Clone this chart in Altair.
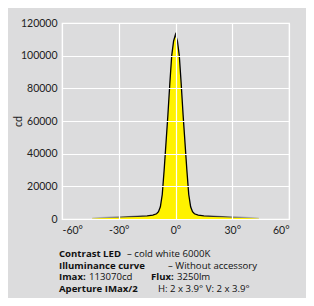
import altair as alt
import pandas as pd

angles = [-44, -40, -35, -30, -25, -20, -15, -12, -10, -9, -8, -7, -6, -5, -4, -3, -2, -1, 0,
          1, 2, 3, 4, 5, 6, 7, 8, 9, 10, 12, 15, 20, 25, 30, 35, 40, 44]
intensity = [600, 800, 1000, 1200, 1400, 1600, 1900, 2400, 3200, 4500, 7500, 15000, 30000, 47000,
             64000, 83000, 100000, 109000, 113070,
             109000, 100000, 83000, 64000, 47000, 30000, 15000, 7500, 4500, 3200, 2400, 1900,
             1600, 1400, 1200, 1000, 800, 600]
x_ticks = [-60, -30, 0, 30, 60]
y_ticks = [0, 20000, 40000, 60000, 80000, 100000, 120000]

df = pd.DataFrame({"angle": angles, "cd": intensity})

FONT = "Lato"
TFONT = "Open Sans"
BG = "#dcdcdd"

x = alt.X("angle:Q", scale=alt.Scale(domain=[-60, 60], nice=False),
          axis=alt.Axis(values=x_ticks, labelExpr="datum.value + '°'", title=None,
                        grid=True, gridColor="white", gridWidth=1.2, domain=False, ticks=False,
                        labelPadding=6, labelFontSize=10.5, labelColor="#222", labelFont=FONT,
                        labelOverlap=False, zindex=1))
y = alt.Y("cd:Q", scale=alt.Scale(domain=[0, 120000], nice=False),
          axis=alt.Axis(values=y_ticks, format="d", title="cd", titleFontWeight="normal",
                        titleFontSize=10.5, titleColor="#222", titleFont=FONT, titlePadding=-3,
                        grid=True, gridColor="white", gridWidth=1.2, domain=False, ticks=False,
                        labelPadding=5, labelFontSize=10.5, labelColor="#222", labelFont=FONT,
                        labelOverlap=False, zindex=1))

area = alt.Chart(df).mark_area(color="#fff200", opacity=1).encode(x=x, y=y)
line = alt.Chart(df).mark_line(
    strokeWidth=1.3,
    color=alt.Gradient(gradient="linear", x1=0, x2=1, y1=0, y2=0,
                       stops=[alt.GradientStop(color="#c8c8c8", offset=0),
                              alt.GradientStop(color="#000000", offset=0.35),
                              alt.GradientStop(color="#000000", offset=0.65),
                              alt.GradientStop(color="#c8c8c8", offset=1)])
).encode(x=x, y=y)

base = alt.Chart(pd.DataFrame({"a": [0]}))

def txt(s, px, py, bold):
    return base.mark_text(align="left", baseline="middle", fontSize=9.6, font=TFONT,
                          fontWeight="bold" if bold else "normal", color="#111").encode(
        x=alt.value(px), y=alt.value(py), text=alt.value(s))

texts = [
    txt("Contrast LED", -3, 231, True),
    txt("– cold white 6000K", 65, 231, False),
    txt("Illuminance curve", -3, 242.5, True),
    txt("– Without accessory", 106, 242.5, False),
    txt("Imax:", -3, 254, True),
    txt("113070cd", 27, 254, False),
    txt("Flux:", 89, 254, True),
    txt("3250lm", 115, 254, False),
    txt("Aperture IMax/2", -3, 265.5, True),
    txt("H: 2 x 3.9°  V: 2 x 3.9°", 96, 265.5, False),
]

chart = alt.layer(area, line, *texts).properties(
    width=227, height=196,
    autosize=alt.AutoSizeParams(type="none"),
    padding={"left": 54, "top": 15, "right": 17, "bottom": 79},
    background=BG,
).configure_view(stroke="white", strokeWidth=1.2)

chart.save("out.html", embed_options={"renderer": "svg", "actions": False})
